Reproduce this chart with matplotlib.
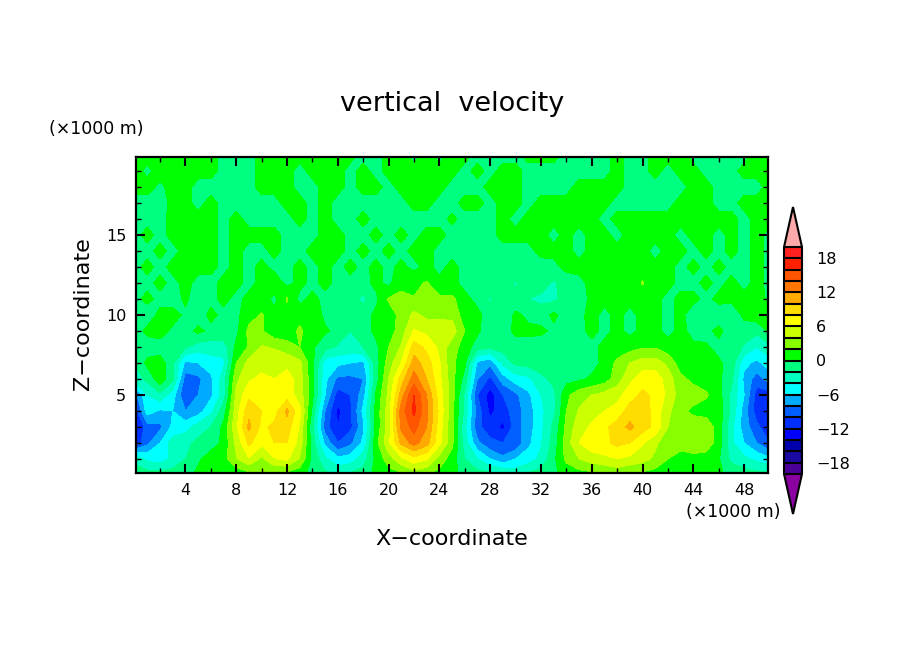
import numpy as np
import matplotlib
matplotlib.use("Agg")
import matplotlib.pyplot as plt
from matplotlib.colors import ListedColormap, BoundaryNorm

x_km = list(range(0, 51))
z_km = list(range(0, 21))
w_z00 = [-1,-1,-1,-1,-.8,.5,.2,-.5,.5,1,2.2,1.5,1,.5,-.5,-1.5,-2,-1.5,-1,.5,1,1.5,2.5,2,1.2,.5,-.5,-1,-1.2,-1.5,-2.5,-1.5,-1,-.3,.5,1,1.2,1.5,2.2,1.5,1.3,1,.8,.7,.7,.6,.3,-.5,-1,-1.2,-1.2]
w_z01 = [-2.5,-4.5,-5,-3.5,-2,-.3,1,1.2,3.8,5.8,3.5,5.8,6.4,3.8,-.5,-3.5,-5.5,-5,-3,.5,3,5.5,7.2,6.2,3.2,1,-2,-4,-6,-7.5,-6,-5,-3.5,-.5,2.5,4,5,5.5,6,5.5,4.8,3.5,2,1.5,1.2,1,.2,-2.5,-3.5,-4.5,-5.5]
w_z02 = [-11.5,-8.5,-6,-3,-2.5,-1.5,-1,.5,4.5,8.5,6.5,8,8,5.2,-1,-6.5,-10,-8.5,-5.5,1.2,5.5,10.5,12.8,10.8,6.5,2.5,-3,-7.5,-9.5,-10,-9.5,-6.5,-4.2,-1.2,3,6,7.2,7.5,8.5,8,6.2,4.5,2.5,2.5,3.5,3.3,1,-3.5,-6,-8,-10]
w_z03 = [-13,-9,-8.5,-5.5,-4.8,-3,-2,.5,5.5,10.5,7.5,8.5,9,5.8,-1.5,-9,-12,-10.5,-6.5,.5,5,12.5,14.8,12,7,2.5,-3.5,-9.5,-11,-12.5,-9,-7,-4.5,-1.5,2.5,5.2,6.3,7.5,9,10.5,9,7.5,4,2,3.2,3.5,1,-3.5,-7,-9.5,-11.5]
w_z04 = [-11.5,-5,-6.3,-6,-8,-7,-4.5,-1,5,9.5,8,7,10.5,6.5,-.5,-8,-12.5,-10.5,-5.5,.6,5,13,16.5,12.5,7.5,2.5,-2.5,-9,-12.5,-11,-9,-7,-4.5,-2.5,2,4.2,5.3,6,6.7,9,9.2,7.2,4.5,2.5,1.5,1,1.2,-2.5,-7,-11,-10]
w_z05 = [-9,-4,-2.5,-5,-10,-8,-6.5,-3,4.5,7.5,7.5,6.8,7,5.2,.5,-6,-11,-10,-7,.2,4.5,11,16,12,7,3,-2.5,-10,-13,-10,-8.5,-6.5,-4,-2.5,1.5,3.2,4,4.7,5.3,7,8.5,7.5,5.5,3,3,2.3,.8,-2.5,-6,-11,-11]
w_z06 = [-3,-1.5,1.2,-1.5,-9,-8.5,-6.5,-3,3.5,5.7,6.5,6,7,5,.5,-5.5,-8.5,-8.5,-8,-1,4,9,13,10,6.5,2.8,-.8,-8,-10.5,-7,-5,-4.5,-2.5,-1.5,-.7,-.3,.3,1,3,5.5,7,7.2,5,2.5,1.5,1,.5,-1.5,-6.5,-9,-7]
w_z07 = [-2,.5,1,-1.5,-6.5,-6,-5,-4.5,2,4.7,5.2,5.3,5.3,4.5,.5,-5,-5.5,-6,-6.5,-1,3,6,11,9,6.2,2.5,.5,-6.5,-7.5,-3.5,-1.5,-1.2,-1,-1,-.8,-1,-.7,.5,2.5,4,5,5,3.5,1,.8,.7,.3,-.8,-5.5,-6.5,-5]
w_z08 = [-1.5,-1,-1,-1.5,-1.8,-3,-3,-3,.5,2.2,4.2,3.8,3,2,.3,-1.2,-2.3,-2.5,-2,-.5,2,4.2,9,7.5,5.5,3,1,-1,-1.5,-1.2,-1,-1,-1.2,-1.3,-1.5,-1,-.5,.5,.7,1.2,1.8,1.8,.8,.6,.3,.2,-.5,-1,-2.2,-4,-2.5]
w_z09 = [-1,.5,1,-.5,-1,.5,-.5,-.5,-.5,2.5,2.2,.5,.5,2.5,.5,.3,-.5,-2,-1,.5,1,3,6.2,5.5,4.5,5,2,.4,-1.5,-1,.5,.5,.5,-.5,-.5,-.5,.5,-.5,.5,-.5,.5,.5,-.5,.5,-.5,-.5,.5,-1,-1,-1.5,.5]
w_z10 = [-.5,-1,.5,1,-.5,-1,.5,-.5,-.5,1.2,2.2,.6,1.2,1,1.5,-.5,-1.2,-2,-1,.5,1.2,2.5,4.5,3.5,3.8,3.5,1,.5,-1,-2,.5,-.5,-1,.5,-1,-.5,.6,-.5,.5,-.5,.5,.5,-.5,.5,-1,-1.5,-1,-1.5,.5,1.2,1]
w_z11 = [-.5,.5,-.5,-1.2,.5,-1.5,-.5,.5,-.5,.5,1,-.5,2.2,-.5,.5,-.5,-.5,-1,-2.5,-.5,2.2,2.5,2.1,2.5,2.5,2.5,.5,-.5,-2.3,-.5,-1.5,-2,-2.5,-2.5,-1,-1,.5,.5,.5,.5,.5,.5,-.5,.5,.5,-.5,.5,.5,.5,1,-.5]
w_z12 = [-.5,-.5,.5,-.5,.5,-.5,-.5,.5,.5,-.5,.5,1.2,-.5,.5,-.5,.5,-.5,-.5,-.7,.5,-.5,1.5,1.5,2.2,.5,.5,-.5,-.5,-.5,-1,-2.2,-.8,-1,-2.3,-1,-.5,.5,.5,1,.5,2.2,.5,.5,-.5,-.5,.5,-.5,.5,-.5,.5,-.5]
w_z13 = [-.5,.5,-.5,.5,.5,.5,.5,-.5,.5,-.5,.5,-.5,-.5,.5,-.5,.5,-.5,.5,-.5,.5,-.5,.5,-.5,.5,-.5,.5,-.5,-.5,-.5,-.5,-.5,-.5,-.7,-.5,.5,.5,.5,1,1,.5,1,.5,.5,-.5,.5,-.5,.5,-.5,-.5,.5,-.5]
w_z14 = [-.5,-.5,.5,-.5,.5,.5,.5,-.5,.5,-.5,-.5,.5,-.5,-.5,.5,.5,.5,-.5,.5,-.5,.5,-.5,.5,.5,-.5,-.5,-.5,-.5,-.5,-.5,-.5,-.5,.5,.5,.5,-.5,.5,.5,.5,.5,.5,-.5,.5,.5,-.5,.5,-.5,.5,-.5,.5,-.5]
w_z15 = [-.5,.5,-.5,.5,.5,.5,.5,-.5,.5,.5,.5,.5,-.5,-.5,-.5,.5,.5,-.5,-.5,.5,-.5,.5,-.5,.5,.5,-.5,-.5,-.5,-.5,.5,.5,.5,.5,-.5,.5,-.5,.5,.5,-.5,.5,.5,.5,.5,-.5,.5,.5,-.5,.5,-.5,.5,-.5]
w_z16 = [-.5,-.5,-.5,.5,.5,.5,.5,-.5,.5,-.5,-.5,-.5,-.5,.5,-.5,.5,-.5,-.5,.5,-.5,-.5,-.5,-.5,-.5,-.5,.3,-.5,-.5,-.5,.5,-.5,.5,.5,.5,.5,.5,.5,-.5,.5,.5,.5,.5,.5,.5,.5,.5,.5,.5,-.5,.5,.5]
w_z17 = [-.5,-.5,-.5,.3,.5,-.5,.5,-.5,-.5,-.5,-.5,-.5,.5,.5,-.5,.5,-.5,-.5,-.5,-.5,-.5,-.5,.5,.5,-.5,-.5,.5,.5,-.5,.5,.5,-.5,.5,.5,.5,.5,.5,.5,-.5,-.5,-.5,-.5,-.5,.5,.5,.5,-.5,-.5,.5,.5,.5]
w_z18 = [.5,.5,-.3,.5,.5,-.5,-.5,-.5,-.5,-.5,.5,.5,.5,-.5,-.5,.5,.5,-.5,.5,.5,-.5,.5,.5,.5,.5,-.5,-.5,-.5,.5,.5,.5,-.5,-.5,-.5,-.5,.5,.5,.5,.5,-.5,-.5,-.5,-.5,-.5,.5,.5,-.5,-.5,-.5,-.5,.5]
w_z19 = [.5,-.3,.5,.5,.5,.5,.5,-.5,-.5,-.5,.5,.5,.5,-.5,.5,.5,.5,-.5,.5,-.5,.5,.5,.5,.5,.5,.5,-.5,.5,-.5,.5,.5,-.5,-.5,-.5,-.5,-.5,-.5,-.5,.5,-.5,-.5,.5,-.5,.5,.5,-.5,-.5,-.5,.5,.5,.5]
w_z20 = [-.5,.5,.5,.5,.5,.5,.5,-.5,-.5,-.5,.5,.5,.5,.5,.5,.5,.5,.5,-.5,-.5,.5,.5,-.5,.5,-.5,.5,.5,-.5,-.5,-.5,-.5,.5,.5,.5,-.5,-.5,-.5,-.5,.5,-.5,-.5,.5,.5,.5,-.5,-.5,-.5,-.5,-.5,.5,.5]

w_rows = [w_z00,w_z01,w_z02,w_z03,w_z04,w_z05,w_z06,w_z07,w_z08,w_z09,w_z10,
          w_z11,w_z12,w_z13,w_z14,w_z15,w_z16,w_z17,w_z18,w_z19,w_z20]
levels = list(range(-20, 21, 2))
band_colors = ["#4b0099","#1a0aa0","#0000aa","#0000ff","#0030ff","#0060ff","#00aaff","#00ffff",
               "#00ffc0","#00ff80","#00ff00","#88ff00","#ccff00","#ffff00","#ffdd00","#ffaa00",
               "#ff7700","#ff5500","#ff2000","#ff2020"]
under_color = "#8b00a0"
over_color = "#ffaaaa"
cbar_ticks = [-18,-12,-6,0,6,12,18]

W, H = 904, 654
fig = plt.figure(figsize=(W/100, H/100), dpi=100, facecolor="white")
def rect(l, t, r, b):
    return [l/W, 1-b/H, (r-l)/W, (b-t)/H]
ax = fig.add_axes(rect(136, 157, 768, 473))
cmap = ListedColormap(band_colors)
cmap.set_under(under_color); cmap.set_over(over_color)
norm = BoundaryNorm(levels, cmap.N)
cf = ax.contourf(x_km, z_km, np.array(w_rows), levels=levels, cmap=cmap, norm=norm,
                 extend="both", antialiased=False)
ax.set_xlim(0.11, 49.88)
ax.set_ylim(0.125, 19.875)
ax.set_xticks(range(4, 50, 4))
ax.set_xticks(range(2, 50, 4), minor=True)
ax.set_yticks([5, 10, 15])
ax.set_yticks([z for z in range(1, 20) if z % 5], minor=True)
ax.tick_params(which="major", direction="in", length=6.8, width=1.5, top=True, right=True,
               labelsize=11.5, pad=7, color="black")
ax.tick_params(which="minor", direction="in", length=3.4, width=1, top=True, right=True)
for s in ax.spines.values():
    s.set_linewidth(1.6)

def px_text(x, y, s, **k):
    fig.text(x/W, 1-y/H, s, va="center", color="black", **k)
px_text(452, 104, "vertical  velocity", ha="center", fontsize=19.5)
px_text(96, 129, "(×1000 m)", ha="center", fontsize=12.5)
px_text(733, 512, "(×1000 m)", ha="center", fontsize=12.5)
px_text(452, 539, "X−coordinate", ha="center", fontsize=16)
px_text(83, 314, "Z−coordinate", ha="center", rotation=90, fontsize=16)

cax = fig.add_axes(rect(784, 207, 802, 514))
cb = fig.colorbar(cf, cax=cax, extend="both", extendfrac=40/226, drawedges=True,
                  spacing="uniform", ticks=cbar_ticks)
cb.ax.minorticks_off()
cb.ax.tick_params(length=0, labelsize=11.5, pad=10)
cb.ax.set_yticklabels(["−18","−12","−6","0","6","12","18"])
cb.outline.set_linewidth(1.5)
cb.dividers.set_linewidth(1.5)
cb.dividers.set_color("black")

fig.savefig("out.png", dpi=100, facecolor="white")
